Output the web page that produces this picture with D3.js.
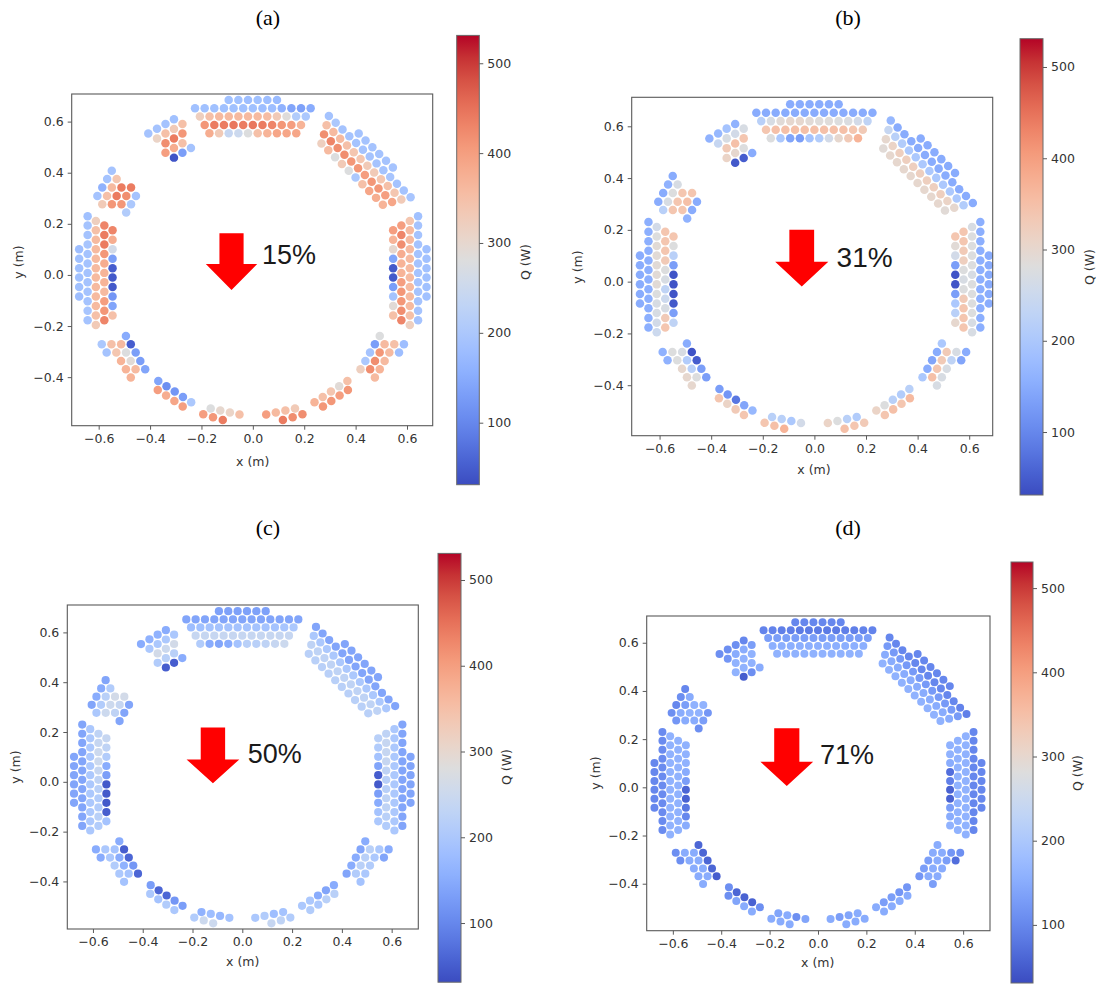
<!DOCTYPE html>
<html><head><meta charset="utf-8">
<script src="https://cdn.jsdelivr.net/npm/d3@7"></script>
<style>body{margin:0;background:#fff}svg{display:block}</style>
</head><body>
<svg id="fig" width="1102" height="987"></svg>
<script>
// ---------- axes / colour scale data ----------
const X_TICKS = [-0.6, -0.4, -0.2, 0.0, 0.2, 0.4, 0.6];
const Y_TICKS = [-0.4, -0.2, 0.0, 0.2, 0.4, 0.6];
const CB_TICKS = [100, 200, 300, 400, 500];
const Q_MIN = 31, Q_MAX = 531;
const PANEL_TITLES = ["(a)", "(b)", "(c)", "(d)"];
const REDUCTIONS = ["15%", "31%", "50%", "71%"];

// ---------- heliostat layout: rows [x0, y0, x1, y1, count] (m) ----------
const L_T   = [[-0.094,0.685,0.094,0.685,6],[-0.225,0.652,0.225,0.652,13],[-0.206,0.620,0.206,0.620,12],[-0.1875,0.587,0.1875,0.587,11],[-0.169,0.554,0.169,0.554,10]];
const L_TR  = [[0.412,0.553,0.545,0.420,6],[0.296,0.622,0.614,0.304,13],[0.287,0.586,0.578,0.295,12],[0.277,0.550,0.542,0.285,11],[0.267,0.514,0.506,0.275,10]];
const L_TL  = [[-0.407,0.553,-0.407,0.553,1],[-0.373,0.572,-0.373,0.534,2],[-0.340,0.591,-0.340,0.478,4],[-0.307,0.609,-0.307,0.459,5],[-0.274,0.591,-0.274,0.478,4],[-0.241,0.497,-0.241,0.497,1]];
const L_LS  = [[-0.549,0.408,-0.549,0.408,1],[-0.567,0.375,-0.530,0.375,2],[-0.586,0.342,-0.474,0.342,4],[-0.605,0.309,-0.455,0.309,5],[-0.586,0.277,-0.474,0.277,4],[-0.493,0.244,-0.493,0.244,1]];
const L_L   = [[-0.676,0.1005,-0.676,-0.0845,6],[-0.643,0.230,-0.643,-0.177,12],[-0.611,0.2115,-0.611,-0.1955,12],[-0.578,0.193,-0.578,-0.177,11],[-0.546,0.1745,-0.546,-0.1585,10]];
const L_R   = [[0.676,0.1005,0.676,-0.0845,6],[0.643,0.230,0.643,-0.177,12],[0.611,0.2115,0.611,-0.1955,12],[0.578,0.193,0.578,-0.177,11],[0.546,0.1745,0.546,-0.1585,10]];
const L_BLS = [[-0.494,-0.239,-0.494,-0.239,1],[-0.588,-0.2715,-0.475,-0.2715,4],[-0.569,-0.304,-0.456,-0.304,4],[-0.513,-0.3365,-0.438,-0.3365,3],[-0.494,-0.369,-0.419,-0.369,3],[-0.475,-0.4015,-0.475,-0.4015,1]];
const L_BLD = [[-0.368,-0.415,-0.240,-0.498,5],[-0.370,-0.450,-0.273,-0.515,4]];
const L_BL  = [[-0.164,-0.523,-0.052,-0.546,4],[-0.193,-0.545,-0.117,-0.568,3]];
const L_BR  = [[0.052,-0.546,0.164,-0.523,4],[0.117,-0.568,0.193,-0.545,3]];
const L_BRD = [[0.240,-0.498,0.368,-0.415,5],[0.273,-0.515,0.370,-0.450,4]];
const L_BRS = [[0.494,-0.239,0.494,-0.239,1],[0.475,-0.2715,0.588,-0.2715,4],[0.456,-0.304,0.569,-0.304,4],[0.438,-0.3365,0.513,-0.3365,3],[0.419,-0.369,0.494,-0.369,3],[0.475,-0.4015,0.475,-0.4015,1]];
const LAYOUT = [L_T, L_TR, L_TL, L_LS, L_L, L_R, L_BLS, L_BLD, L_BL, L_BR, L_BRD, L_BRS];

// ---------- Q (W) per heliostat, same order as layout ----------
const qA = [
 [[185,185,180,185,180,175],[185,185,185,185,185,185,185,180,180,160,140,135,150],[320,350,360,360,360,360,360,355,330,285,210,200],[410,440,440,445,440,445,440,430,410,400,370],[380,330,240,250,280,350,370,390,390,390]],
 [[190,190,190,190,190,190],[190,200,190,190,190,190,190,190,190,195,190,190,195],[350,360,360,350,340,340,330,330,340,350,340,330],[420,430,420,420,410,410,400,410,410,400,390],[320,360,280,330,280,200,350,390,380,370]],
 [[190],[190,310],[190,350,420,400],[185,330,440,380,40],[350,410,350,130],[190]],
 [[190],[190,340],[160,360,440,440],[190,350,440,420,190],[330,410,410,200],[210]],
 [[180,185,185,185,185,180],[185,190,190,195,190,190,190,190,190,190,195,190],[320,350,360,360,360,360,360,360,360,360,350,330],[430,440,440,410,380,370,370,360,400,410,430],[430,380,260,130,50,45,45,120,140,350]],
 [[185,185,185,185,185,185],[185,190,190,190,190,190,190,190,190,190,190,190],[340,360,360,360,360,360,360,360,360,360,350,320],[400,430,420,380,370,370,400,410,410,420,430],[400,370,300,140,45,45,130,190,290,350]],
 [[150],[200,350,360,50],[190,340,280,130],[370,290,130],[370,360,140],[370]],
 [[140,110,120,130,200],[400,380,390,400]],
 [[280,300,310,350],[400,410,440]],
 [[400,360,350,330],[440,420,420]],
 [[370,350,340,290,350],[410,410,400,410]],
 [[280],[130,360,350,180],[190,410,360,180],[200,420,360],[320,420,370],[360]]
];
const qB = [
 [[150,150,150,150,150,150],[150,150,150,150,150,150,150,150,150,150,150,150,150],[220,270,290,300,300,290,285,285,280,275,260,230],[340,350,350,350,350,350,350,350,350,340,330],[280,200,140,130,190,210,260,300,330,370]],
 [[150,150,150,150,150,150],[170,150,150,150,150,150,150,150,150,150,150,150,150],[240,220,210,200,200,200,200,200,200,200,200,210],[300,310,320,320,320,320,320,320,320,310,300],[290,300,300,300,300,300,300,300,300,290]],
 [[160],[170,240],[190,270,330,310],[160,260,350,300,45],[270,340,280,50],[150]],
 [[150],[160,270],[150,280,340,340],[150,270,340,350,150],[220,340,340,150],[160]],
 [[150,150,150,150,150,150],[155,155,155,155,155,155,155,155,155,155,155,155],[260,280,290,290,290,290,290,280,270,270,260,250],[340,340,340,330,280,270,230,250,270,330,340],[340,280,220,130,40,40,40,45,130,230]],
 [[150,150,150,150,150,150],[155,155,155,155,155,155,155,155,155,155,155,155],[270,280,280,280,280,270,280,280,280,280,270,270],[340,340,330,320,280,270,280,330,340,340,340],[340,290,260,130,40,40,130,200,220,300]],
 [[150],[160,280,270,40],[160,280,210,50],[300,220,130],[300,280,130],[300]],
 [[130,120,80,140,170],[340,310,330,340]],
 [[220,220,200,260],[340,350,370]],
 [[310,280,220,210],[350,340,330]],
 [[310,280,220,210,220],[340,350,340,360]],
 [[200],[150,330,270,150],[140,330,230,140],[150,340,270],[200,350,270],[270]]
];
const qC = [
 [[135,135,135,135,135,135],[140,140,140,140,140,140,140,140,140,140,140,140,140],[180,185,190,190,190,190,190,190,190,190,195,200],[240,240,240,240,240,240,240,240,240,240,240],[210,150,140,150,190,220,220,230,240,250]],
 [[140,140,140,140,140,140],[140,140,140,140,140,140,140,140,140,140,140,140,140],[200,200,200,200,200,200,200,200,200,200,200,200],[230,230,230,230,230,230,230,230,230,230,230],[220,220,220,220,220,220,220,220,220,220]],
 [[150],[160,200],[160,200,260,210],[150,200,250,220,50],[200,260,220,50],[150]],
 [[140],[150,210],[150,220,260,260],[140,210,250,240,140],[200,250,230,140],[140]],
 [[140,140,140,140,140,140],[140,140,140,140,140,140,140,140,140,140,140,140],[200,200,200,200,200,200,200,200,200,200,200,200],[230,240,250,250,240,230,220,210,210,220,210],[240,230,210,150,130,45,45,45,50,190]],
 [[140,140,140,140,140,140],[140,140,140,140,140,140,140,140,140,140,140,140],[200,200,200,200,200,200,200,200,200,200,200,200],[230,240,240,240,230,220,220,230,230,220,210],[220,210,190,140,50,45,130,150,190,200]],
 [[150],[150,200,190,50],[150,200,150,60],[210,160,120],[200,190,60],[190]],
 [[130,60,60,120,130],[200,190,210,200]],
 [[160,180,170,190],[210,250,250]],
 [[200,210,180,190],[240,230,210]],
 [[200,200,150,140,150],[210,200,220,220]],
 [[150],[140,220,200,150],[150,220,200,140],[150,220,210],[140,210,200],[190]]
];
const qD = [
 [[100,100,100,100,100,100],[95,95,90,90,85,85,85,85,85,90,90,95,95],[130,130,130,130,130,130,130,130,130,130,130,130],[155,155,155,155,155,155,155,155,155,155,155],[160,160,160,160,160,160,160,160,160,160]],
 [[100,100,100,100,100,100],[100,100,100,100,100,100,100,100,100,100,100,95,90],[125,125,125,125,125,125,125,125,125,125,125,125],[150,150,150,150,150,150,150,150,150,150,150],[160,160,160,160,160,160,160,160,160,160]],
 [[110],[110,120],[110,150,160,160],[100,150,160,160,50],[130,160,160,110],[150]],
 [[100],[110,150],[100,130,160,160],[110,150,160,160,120],[120,150,150,130],[110]],
 [[100,100,100,100,100,100],[105,105,105,105,105,105,105,105,105,105,105,105],[160,160,160,160,160,160,160,160,160,160,160,160],[160,160,160,160,160,160,160,160,160,160,160],[160,160,160,150,130,60,55,80,100,150]],
 [[100,100,100,100,100,100],[100,100,100,100,100,100,100,100,100,100,100,100],[160,160,160,160,160,160,160,160,160,160,160,160],[160,160,160,160,160,160,160,160,160,160,160],[160,160,150,70,90,55,55,130,150,160]],
 [[60],[110,150,150,60],[110,150,150,60],[150,150,60],[150,150,50],[150]],
 [[110,60,55,55,110],[110,140,150,150]],
 [[140,150,110,140],[150,150,150]],
 [[150,130,140,150],[150,150,150]],
 [[150,130,130,120,120],[150,150,150,150]],
 [[150],[150,150,120,110],[130,150,130,70],[130,150,150],[120,150,150],[130]]
];
const Q_PANELS = [qA, qB, qC, qD];

// red arrow + text annotation positions (data units)
const ARROWS = [
 {cx:-0.083, top:0.163, head:0.043, tip:-0.059, sw:0.047, hw:0.100, tx:0.036, ty:0.043},
 {cx:-0.049, top:0.200, head:0.077, tip:-0.019, sw:0.048, hw:0.103, tx:0.086, ty:0.058},
 {cx:-0.118, top:0.218, head:0.090, tip:-0.006, sw:0.049, hw:0.106, tx:0.022, ty:0.074},
 {cx:-0.129, top:0.245, head:0.106, tip:0.005,  sw:0.052, hw:0.109, tx:0.008, ty:0.097}
];

// panel placement (pixels) and axis limits
const PANELS = [
 {box:[71.7,94,432.7,425.7],  xd:[-0.705,0.700], yd:[-0.590,0.708], cb:[456.7,479.3,35.4,484.7], title:[268,25],  xl:[252.7,466], yl:[19,262],  ql:[526,262], fs:27},
 {box:[631.7,97.3,992.7,435.7], xd:[-0.708,0.691], yd:[-0.595,0.712], cb:[1020,1043,38.7,495],  title:[848,25],  xl:[814,474], yl:[578,267], ql:[1090,267], fs:28},
 {box:[67.3,605,418.3,929],   xd:[-0.703,0.707], yd:[-0.591,0.710], cb:[438,461,553.4,982.2],   title:[268,535], xl:[242.7,966], yl:[16,767], ql:[507,767], fs:27},
 {box:[646.7,616,990,930.7],  xd:[-0.708,0.711], yd:[-0.595,0.711], cb:[1011,1033,562,983],     title:[848,535], xl:[817.7,967], yl:[596,773], ql:[1078,773], fs:27}
];

// coolwarm (Moreland) colormap
const CW = [[59,76,192],[77,104,215],[98,130,234],[119,154,247],[141,176,254],[163,194,255],[184,208,249],[204,217,238],[221,221,221],[236,211,197],[245,196,173],[247,177,148],[244,154,123],[236,127,99],[222,96,77],[203,62,56],[180,4,38]];
const cwInterp = d3.piecewise(d3.interpolateRgb, CW.map(c => d3.rgb(c[0],c[1],c[2])));
const color = d3.scaleSequential(cwInterp).domain([Q_MIN, Q_MAX]);

const svg = d3.select("#fig");
const defs = svg.append("defs");
const grad = defs.append("linearGradient").attr("id","cwgrad").attr("x1",0).attr("y1",1).attr("x2",0).attr("y2",0);
d3.range(0,1.0001,0.05).forEach(t => grad.append("stop").attr("offset",t).attr("stop-color",cwInterp(t)));

const fmt = d => d3.format(".1f")(d);
const FONT = "DejaVu Sans, sans-serif";

PANELS.forEach((P, pi) => {
  const [L,T,R,B] = P.box;
  const x = d3.scaleLinear().domain(P.xd).range([L,R]);
  const y = d3.scaleLinear().domain(P.yd).range([B,T]);
  const g = svg.append("g");
  const kx = (R-L)/(P.xd[1]-P.xd[0]);
  const rad = 0.0165*kx;

  // points
  const pts = [];
  LAYOUT.forEach((cl, ci) => cl.forEach((row, ri) => {
    const [x0,y0,x1,y1,n] = row;
    for (let j=0;j<n;j++){
      const t = n>1 ? j/(n-1) : 0;
      pts.push({x:x0+(x1-x0)*t, y:y0+(y1-y0)*t, q:Q_PANELS[pi][ci][ri][j]});
    }
  }));
  g.append("g").selectAll("circle").data(pts).join("circle")
    .attr("cx", d => x(d.x)).attr("cy", d => y(d.y)).attr("r", rad)
    .attr("fill", d => color(d.q));

  // frame
  g.append("rect").attr("x",L).attr("y",T).attr("width",R-L).attr("height",B-T)
    .attr("fill","none").attr("stroke","#5a5a5a").attr("stroke-width",1.1);

  const ax = g.append("g").attr("transform",`translate(0,${B})`)
    .call(d3.axisBottom(x).tickValues(X_TICKS).tickFormat(fmt).tickSize(4).tickPadding(4).tickSizeOuter(0));
  const ay = g.append("g").attr("transform",`translate(${L},0)`)
    .call(d3.axisLeft(y).tickValues(Y_TICKS).tickFormat(fmt).tickSize(4).tickPadding(4).tickSizeOuter(0));
  [ax,ay].forEach(a => {
    a.select(".domain").remove();
    a.selectAll("line").attr("stroke","#5a5a5a");
    a.selectAll("text").attr("fill","#333").style("font-family",FONT).style("font-size","12.5px");
  });

  g.append("text").attr("x",P.xl[0]).attr("y",P.xl[1]).attr("text-anchor","middle")
    .attr("fill","#333").style("font-family",FONT).style("font-size","12.5px").text("x (m)");
  g.append("text").attr("transform",`translate(${P.yl[0]},${P.yl[1]}) rotate(-90)`).attr("text-anchor","middle")
    .attr("dominant-baseline","middle").attr("fill","#333").style("font-family",FONT).style("font-size","12.5px").text("y (m)");

  // title
  g.append("text").attr("x",P.title[0]).attr("y",P.title[1]).attr("text-anchor","middle")
    .style("font-family","Liberation Serif, serif").style("font-size","22px").attr("fill","#000").text(PANEL_TITLES[pi]);

  // arrow
  const A = ARROWS[pi];
  const poly = [[A.cx-A.sw,A.top],[A.cx+A.sw,A.top],[A.cx+A.sw,A.head],[A.cx+A.hw,A.head],[A.cx,A.tip],[A.cx-A.hw,A.head],[A.cx-A.sw,A.head]];
  g.append("path").attr("d", d3.line().x(d=>x(d[0])).y(d=>y(d[1]))(poly)+"Z").attr("fill","#ff0000");
  g.append("text").attr("x",x(A.tx)).attr("y",y(A.ty)).style("font-family","Liberation Sans, Arial, sans-serif")
    .style("font-size",P.fs+"px").attr("fill","#1a1a1a").text(REDUCTIONS[pi]);

  // colorbar
  const [cl,cr,ct,cbm] = P.cb;
  const cy = d3.scaleLinear().domain([Q_MIN,Q_MAX]).range([cbm,ct]);
  g.append("rect").attr("x",cl).attr("y",ct).attr("width",cr-cl).attr("height",cbm-ct)
    .attr("fill","url(#cwgrad)").attr("stroke","#6a6a6a").attr("stroke-width",1);
  const ac = g.append("g").attr("transform",`translate(${cr},0)`)
    .call(d3.axisRight(cy).tickValues(CB_TICKS).tickSize(4).tickPadding(4).tickSizeOuter(0));
  ac.select(".domain").remove();
  ac.selectAll("line").attr("stroke","#5a5a5a");
  ac.selectAll("text").attr("fill","#333").style("font-family",FONT).style("font-size","12.5px");
  g.append("text").attr("transform",`translate(${P.ql[0]},${P.ql[1]}) rotate(-90)`).attr("text-anchor","middle")
    .attr("dominant-baseline","middle").attr("fill","#333").style("font-family",FONT).style("font-size","12.5px").text("Q (W)");
});
</script>
</body></html>
